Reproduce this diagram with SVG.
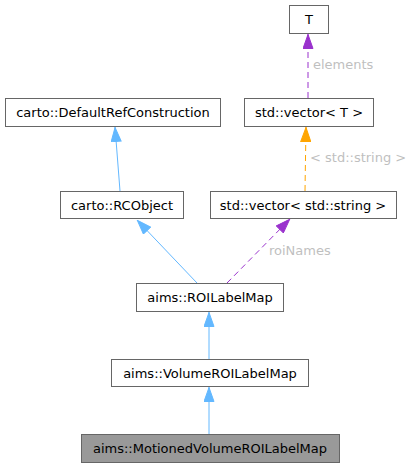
<svg xmlns="http://www.w3.org/2000/svg" width="410" height="468" viewBox="0 0 410 468">
<style>
.box{fill:#fff;stroke:#666;stroke-width:1}
.cur{fill:#999;stroke:#666;stroke-width:1}
text{font-family:"DejaVu Sans",sans-serif;font-size:13px}
.lbl{text-anchor:middle;fill:#000}
.el{fill:#bfbfbf}
.inh{stroke:#63b8ff;fill:none}
.pur{stroke:#9a32cd;fill:none;stroke-dasharray:6,4}
.org{stroke:#ffa500;fill:none;stroke-dasharray:6,4}
</style>
<defs>
<marker id="ab" markerWidth="15" markerHeight="11" refX="15" refY="5.5" orient="auto" markerUnits="userSpaceOnUse" viewBox="0 0 15 11"><path d="M0.5,0.5 L14.5,5.5 L0.5,10.5 Z" fill="#63b8ff" stroke="#63b8ff"/></marker>
<marker id="ap" markerWidth="15" markerHeight="11" refX="15" refY="5.5" orient="auto" markerUnits="userSpaceOnUse" viewBox="0 0 15 11"><path d="M0.5,0.5 L14.5,5.5 L0.5,10.5 Z" fill="#9a32cd" stroke="#9a32cd"/></marker>
<marker id="ao" markerWidth="15" markerHeight="11" refX="15" refY="5.5" orient="auto" markerUnits="userSpaceOnUse" viewBox="0 0 15 11"><path d="M0.5,0.5 L14.5,5.5 L0.5,10.5 Z" fill="#ffa500" stroke="#ffa500"/></marker>
</defs>
<g id="connectors">
<path class="pur" d="M308,98 L308,34" marker-end="url(#ap)"/>
<text class="el" x="313" y="69">elements</text>
<path class="org" d="M305,191 L306,127" marker-end="url(#ao)"/>
<text class="el" x="310" y="162">&lt; std::string &gt;</text>
<path class="inh" d="M120,191 L115,127" marker-end="url(#ab)"/>
<path class="inh" d="M197,283 L137,220" marker-end="url(#ab)"/>
<path class="pur" d="M227,283 L290,219" marker-end="url(#ap)"/>
<text class="el" x="269" y="255">roiNames</text>
<path class="inh" d="M209,359 L209,312" marker-end="url(#ab)"/>
<path class="inh" d="M209,434 L209,387" marker-end="url(#ab)"/>
</g>
<g id="node-T"><rect class="box" x="289.5" y="5.5" width="39" height="28"/><text class="lbl" x="309" y="24">T</text></g>
<g id="node-vectorT"><rect class="box" x="244.5" y="98.5" width="129" height="28"/><text class="lbl" x="309" y="117">std::vector&lt; T &gt;</text></g>
<g id="node-DefaultRefConstruction"><rect class="box" x="5.5" y="98.5" width="215" height="28"/><text class="lbl" x="113" y="117">carto::DefaultRefConstruction</text></g>
<g id="node-RCObject"><rect class="box" x="60.5" y="191.5" width="123" height="27"/><text class="lbl" x="122" y="209.5">carto::RCObject</text></g>
<g id="node-vectorString"><rect class="box" x="210.5" y="191.5" width="186" height="27"/><text class="lbl" x="303" y="209.5">std::vector&lt; std::string &gt;</text></g>
<g id="node-ROILabelMap"><rect class="box" x="136.5" y="283.5" width="147" height="28"/><text class="lbl" x="210" y="302">aims::ROILabelMap</text></g>
<g id="node-VolumeROILabelMap"><rect class="box" x="111.5" y="359.5" width="197" height="27"/><text class="lbl" x="210" y="377.5">aims::VolumeROILabelMap</text></g>
<g id="node-MotionedVolumeROILabelMap"><rect class="cur" x="81.5" y="434.5" width="258" height="28"/><text class="lbl" x="210" y="453">aims::MotionedVolumeROILabelMap</text></g>
</svg>
